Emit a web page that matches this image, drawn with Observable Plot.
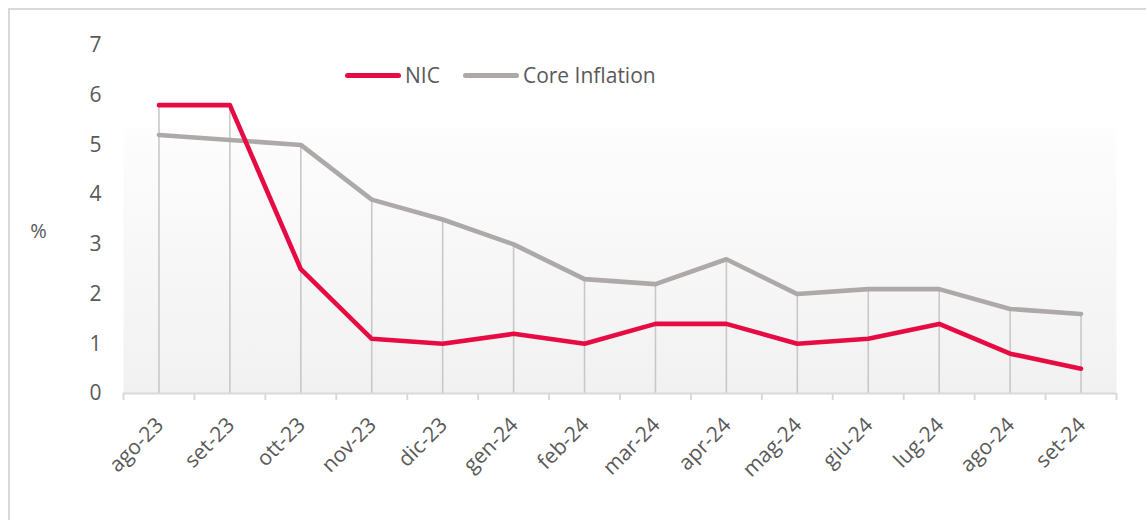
<!DOCTYPE html>
<html>
<head>
<meta charset="utf-8">
<script src="https://cdn.jsdelivr.net/npm/d3@7"></script>
<script src="https://cdn.jsdelivr.net/npm/@observablehq/plot@0.6"></script>
<style>
  html, body { margin: 0; padding: 0; background: #fff; }
  #wrap { position: relative; width: 1146px; height: 520px; overflow: hidden; font-family: "Open Sans", sans-serif; }
  #border { position: absolute; left: 8px; top: 8px; width: 2000px; height: 2000px; border: 2px solid #d9d9d9; box-sizing: border-box; }
  #chart { position: absolute; left: 0; top: 0; }
  #legend { position: absolute; left: 345px; top: 61px; display: flex; align-items: center; font-size: 21px; color: #595959; }
  .item { display: flex; align-items: center; margin-right: 23px; }
  .sw { width: 56px; height: 5px; border-radius: 3px; margin-right: 4px; }
</style>
</head>
<body>
<div id="wrap">
  <div id="border"></div>
  <div id="chart"></div>
  <div id="legend"></div>
</div>
<script>
const months = ["ago-23","set-23","ott-23","nov-23","dic-23","gen-24","feb-24","mar-24","apr-24","mag-24","giu-24","lug-24","ago-24","set-24"];
const nic  = [5.8, 5.8, 2.5, 1.1, 1.0, 1.2, 1.0, 1.4, 1.4, 1.0, 1.1, 1.4, 0.8, 0.5];
const core = [5.2, 5.1, 5.0, 3.9, 3.5, 3.0, 2.3, 2.2, 2.7, 2.0, 2.1, 2.1, 1.7, 1.6];
const yTicks = [0, 1, 2, 3, 4, 5, 6, 7];
const seriesNames = ["NIC", "Core Inflation"];
const seriesColors = ["#e60b43", "#ada9a9"];

const rows = months.map((m, i) => ({month: m, nic: nic[i], core: core[i]}));

const W = 1146, H = 520, mL = 123, mR = 30, mT = 45, mB = 127;
const bw = (W - mL - mR) / months.length;

const defs = () => {
  const d = d3.create("svg:defs");
  const g = d.append("linearGradient").attr("id", "bg").attr("x1", 0).attr("y1", 0).attr("x2", 0).attr("y2", 1);
  g.append("stop").attr("offset", "0%").attr("stop-color", "#fdfdfd");
  g.append("stop").attr("offset", "100%").attr("stop-color", "#f1f1f1");
  return d.node();
};

const chart = Plot.plot({
  width: W, height: H,
  marginLeft: mL, marginRight: mR, marginTop: mT, marginBottom: mB,
  style: {fontFamily: "Open Sans, sans-serif", fontSize: "21px", color: "#595959", background: "transparent", overflow: "visible"},
  x: {type: "band", domain: months, padding: 0, round: false},
  y: {domain: [0, 7]},
  marks: [
    defs,
    Plot.frame({fill: "url(#bg)", stroke: "none", insetTop: 83}),
    Plot.ruleX(rows, {x: "month", y1: 0, y2: d => Math.max(d.nic, d.core), stroke: "#c8c8c8", strokeWidth: 1.6}),
    Plot.ruleY([0], {stroke: "#d9d9d9", strokeWidth: 2}),
    Plot.ruleX(months, {x: d => d, dx: -bw / 2, y1: 0, y2: 0, insetBottom: -7, stroke: "#d9d9d9", strokeWidth: 2}),
    Plot.ruleX([months[months.length - 1]], {x: d => d, dx: bw / 2, y1: 0, y2: 0, insetBottom: -7, stroke: "#d9d9d9", strokeWidth: 2}),
    Plot.line(rows, {x: "month", y: "core", stroke: seriesColors[1], strokeWidth: 4.6, strokeLinecap: "round", strokeLinejoin: "round"}),
    Plot.line(rows, {x: "month", y: "nic", stroke: seriesColors[0], strokeWidth: 4.6, strokeLinecap: "round", strokeLinejoin: "round"}),
    Plot.axisY({ticks: yTicks, tickSize: 0, tickPadding: 22, label: null, fontSize: 21, fill: "#595959", tickFormat: d => String(d)}),
    Plot.axisX({tickSize: 0, tickRotate: -45, tickPadding: 28, label: null, fontSize: 21, fill: "#595959", dx: 1}),
    Plot.text(["%"], {frameAnchor: "left", dx: -85, dy: 12, fontSize: 20, fill: "#595959", textAnchor: "middle"})
  ]
});
document.getElementById("chart").appendChild(chart);

const legend = document.getElementById("legend");
seriesNames.forEach((n, i) => {
  const it = document.createElement("div");
  it.className = "item";
  const sw = document.createElement("div");
  sw.className = "sw";
  sw.style.background = seriesColors[i];
  const t = document.createElement("span");
  t.textContent = n;
  it.appendChild(sw); it.appendChild(t);
  legend.appendChild(it);
});
</script>
</body>
</html>
